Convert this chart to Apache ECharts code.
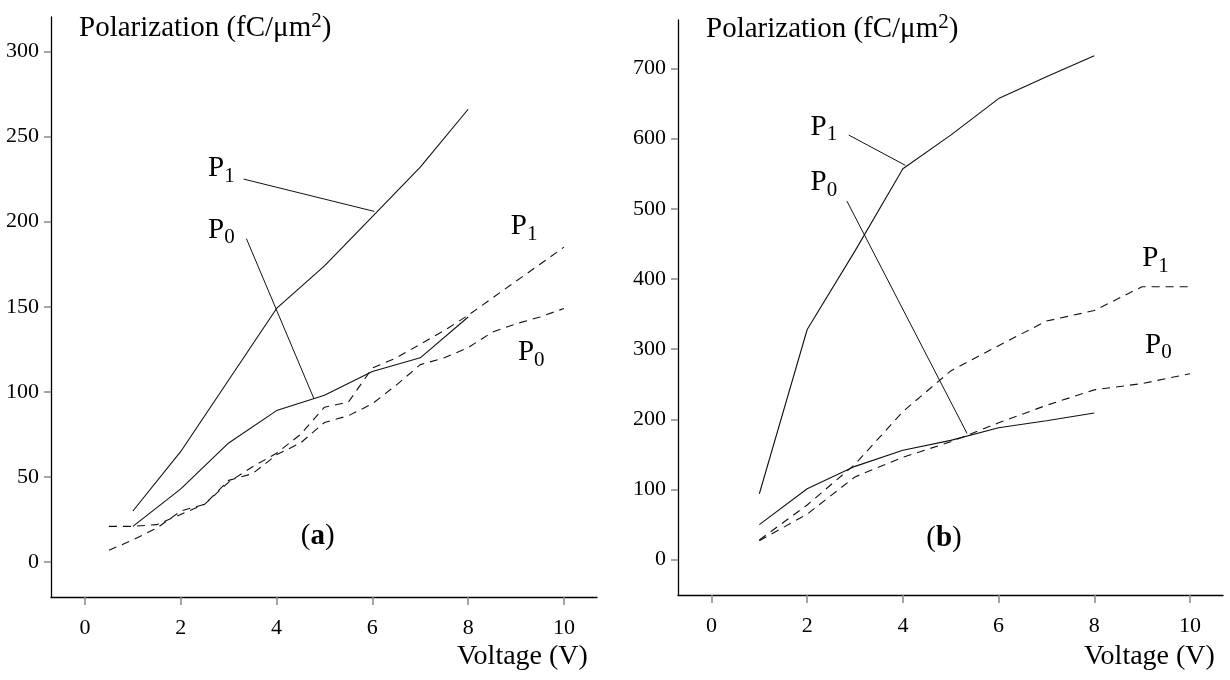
<!DOCTYPE html>
<html>
<head>
<meta charset="utf-8">
<script src="https://cdn.jsdelivr.net/npm/echarts@6/dist/echarts.min.js"></script>
<style>
  html, body { margin: 0; padding: 0; background: #fff; }
  #chart { width: 1230px; height: 680px; }
</style>
</head>
<body>
<div id="chart"></div>
<script>
// tick labels
const xTicks = [0, 2, 4, 6, 8, 10];
const aYTicks = [0, 50, 100, 150, 200, 250, 300];
const bYTicks = [0, 100, 200, 300, 400, 500, 600, 700];

// panel (a)
const aSolidV = [1, 2, 3, 4, 5, 6, 7, 8];
const aSolidP1 = [30, 65, 107, 149, 174, 203, 232, 266];
const aSolidP0 = [21, 43, 70, 89, 98, 112, 120, 144];
const aDashV = [0.5, 1, 1.5, 2, 2.5, 3, 3.5, 4, 4.5, 5, 5.5, 6, 6.5, 7, 7.5, 8, 8.5, 9, 9.5, 10];
const aDashP1 = [21, 21, 22, 28, 34, 47, 56, 64, 75, 91, 94, 114, 120, 128, 136, 145, 155, 165, 175, 185];
const aDashP0 = [7, 13, 20, 30, 34, 48, 52, 63, 70, 82, 86, 93, 104, 116, 120, 126, 135, 140, 144, 149];

// panel (b)
const bSolidV = [1, 2, 3, 4, 5, 6, 7, 8];
const bSolidP1 = [94, 328, 440, 557, 605, 657, 688, 718];
const bSolidP0 = [50, 101, 133, 156, 170, 188, 198, 209];
const bDashV = [1, 2, 3, 4, 5, 6, 7, 8, 9, 10];
const bDashP1 = [28, 78, 136, 211, 269, 305, 340, 355, 389, 389];
const bDashP0 = [27, 65, 118, 146, 168, 195, 220, 242, 251, 265];

// curve labels and their leader lines
const aLabels = [['1', 2.57, 231], ['0', 2.57, 195], ['1', 8.89, 197], ['0', 9.04, 123]];
const aLeaders = [[[3.31, 225], [6.04, 206]], [[3.37, 190], [4.78, 96]]];
const bLabels = [['1', 2.07, 616], ['0', 2.07, 537], ['1', 9.0, 429], ['0', 9.06, 306]];
const bLeaders = [[[2.87, 605], [4.05, 562]], [[2.83, 511], [5.34, 180]]];
const panelTags = [['a', 4.86, 15], ['b', 4.86, 30]];

const FONT = 'Liberation Serif';
const zip = (xs, ys) => xs.map((x, i) => [x, ys[i]]);

const chart = echarts.init(document.getElementById('chart'));

function xAxisFor(gridIndex, min, max) {
  return {
    gridIndex, type: 'value', min, max,
    axisLine: { onZero: false, lineStyle: { color: '#000', width: 1.3 } },
    axisTick: { customValues: xTicks, length: 8, lineStyle: { color: '#888', width: 1.5 } },
    axisLabel: { customValues: xTicks, margin: 20, fontFamily: FONT, fontSize: 22, color: '#000' },
    splitLine: { show: false }
  };
}
function yAxisFor(gridIndex, min, max, ticks) {
  return {
    gridIndex, type: 'value', min, max,
    axisLine: { show: true, onZero: false, lineStyle: { color: '#000', width: 1.3 } },
    axisTick: { show: true, customValues: ticks, length: 7, lineStyle: { color: '#888', width: 1.5 } },
    axisLabel: { customValues: ticks, margin: 12, fontFamily: FONT, fontSize: 22, color: '#000' },
    splitLine: { show: false }
  };
}

function curve(idx, xs, ys, dashed) {
  return {
    type: 'line', xAxisIndex: idx, yAxisIndex: idx, data: zip(xs, ys),
    showSymbol: false, silent: true,
    lineStyle: { color: '#111', width: 1.1, type: dashed ? [8, 6] : 'solid' }
  };
}

const subRich = {
  p: { fontFamily: FONT, fontSize: 29, fontWeight: 'normal', color: '#000' },
  s: { fontFamily: FONT, fontSize: 21, fontWeight: 'normal', color: '#000', padding: [15, 0, 0, 0] },
  n: { fontFamily: FONT, fontSize: 29, fontWeight: 'normal', color: '#000' },
  b: { fontFamily: FONT, fontSize: 29, fontWeight: 'bold', color: '#000' }
};
const labelBase = { fontFamily: FONT, fontSize: 29, color: '#000', opacity: 1, textBorderWidth: 0 };

function labels(idx, list) {
  return {
    type: 'scatter', xAxisIndex: idx, yAxisIndex: idx, silent: true, symbolSize: 0,
    data: list.map(d => ({ value: [d[1], d[2]], sub: d[0] })),
    label: Object.assign({
      show: true, position: 'right', distance: 0,
      formatter: p => '{p|P}{s|' + p.data.sub + '}',
      rich: subRich
    }, labelBase)
  };
}
function leaders(idx, list) {
  return list.map(seg => ({
    type: 'line', xAxisIndex: idx, yAxisIndex: idx, data: seg, showSymbol: false, silent: true,
    lineStyle: { color: '#111', width: 1 }
  }));
}
function tag(idx, t) {
  return {
    type: 'scatter', xAxisIndex: idx, yAxisIndex: idx, silent: true, symbolSize: 0,
    data: [[t[1], t[2]]],
    label: Object.assign({ show: true, position: 'inside', formatter: '{n|(}{b|' + t[0] + '}{n|)}', rich: subRich }, labelBase)
  };
}

const titleRich = {
  t: { fontFamily: FONT, fontSize: 29, fontWeight: 'normal', color: '#000' },
  u: { fontFamily: FONT, fontSize: 21, fontWeight: 'normal', color: '#000', padding: [0, 0, 14, 0] }
};
const titleText = '{t|Polarization (fC/μm}{u|2}{t|)}';
const voltStyle = { fontFamily: FONT, fontSize: 28, fontWeight: 'normal', color: '#000' };

chart.setOption({
  animation: false,
  backgroundColor: '#fff',
  title: [
    { text: titleText, left: 79, top: 11, padding: 0, textStyle: { fontWeight: 'normal', rich: titleRich } },
    { text: titleText, left: 706, top: 12, padding: 0, textStyle: { fontWeight: 'normal', rich: titleRich } },
    { text: 'Voltage (V)', left: 457, top: 643, padding: 0, textStyle: voltStyle },
    { text: 'Voltage (V)', left: 1084, top: 643, padding: 0, textStyle: voltStyle }
  ],
  grid: [
    { left: 51, top: 17, width: 546, height: 580 },
    { left: 678, top: 20, width: 545, height: 575 }
  ],
  xAxis: [xAxisFor(0, -0.71, 10.69), xAxisFor(1, -0.7, 10.69)],
  yAxis: [yAxisFor(0, -20.5, 320.2, aYTicks), yAxisFor(1, -50.3, 769, bYTicks)],
  series: [
    curve(0, aSolidV, aSolidP1, false),
    curve(0, aSolidV, aSolidP0, false),
    curve(0, aDashV, aDashP1, true),
    curve(0, aDashV, aDashP0, true),
    curve(1, bSolidV, bSolidP1, false),
    curve(1, bSolidV, bSolidP0, false),
    curve(1, bDashV, bDashP1, true),
    curve(1, bDashV, bDashP0, true),
    ...leaders(0, aLeaders),
    ...leaders(1, bLeaders),
    labels(0, aLabels),
    labels(1, bLabels),
    tag(0, panelTags[0]),
    tag(1, panelTags[1])
  ]
});
</script>
</body>
</html>
